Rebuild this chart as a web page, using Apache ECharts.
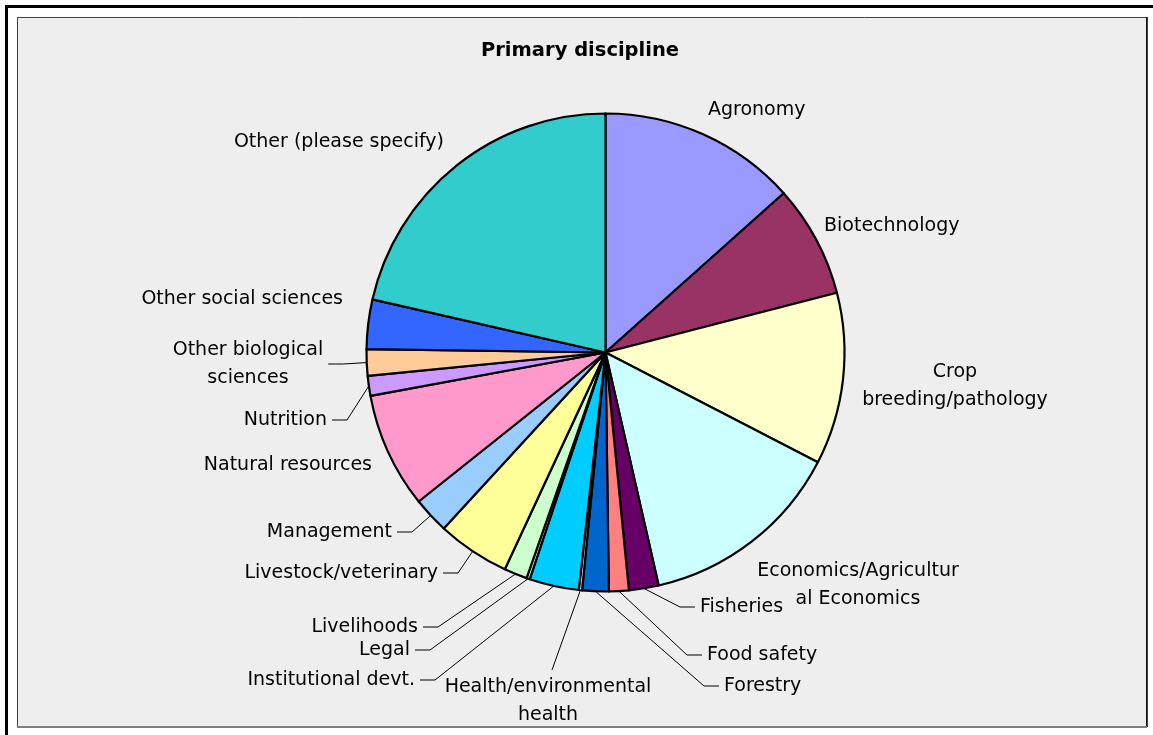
<!DOCTYPE html>
<html>
<head>
<meta charset="utf-8">
<script src="https://cdn.jsdelivr.net/npm/echarts@6/dist/echarts.min.js"></script>
<style>
  html, body { margin: 0; padding: 0; background: #ffffff; }
  #chart { width: 1153px; height: 735px; }
</style>
</head>
<body>
<div id="chart"></div>
<script>
// Respondents by primary discipline
const categories = [
  'Agronomy', 'Biotechnology', 'Crop breeding/pathology',
  'Economics/Agricultural Economics', 'Fisheries', 'Food safety', 'Forestry',
  'Health/environmental health', 'Institutional devt.', 'Legal', 'Livelihoods',
  'Livestock/veterinary', 'Management', 'Natural resources', 'Nutrition',
  'Other biological sciences', 'Other social sciences', 'Other (please specify)'
];
const counts = [60, 34, 52, 62, 9, 6, 8, 1, 15, 1, 7, 22, 11, 35, 6, 8, 15, 96];
const sliceColors = [
  '#9999FF', '#993366', '#FFFFCC', '#CCFFFF', '#660066', '#FF8080', '#0066CC',
  '#CCCCFF', '#00CCFF', '#CCFFFF', '#CCFFCC', '#FFFF99', '#99CCFF', '#FF99CC',
  '#CC99FF', '#FFCC99', '#3366FF', '#33CCCC'
];
// label text, wrapped the way it is printed
const labelText = [
  'Agronomy', 'Biotechnology', 'Crop\nbreeding/pathology',
  'Economics/Agricultur\nal Economics', 'Fisheries', 'Food safety', 'Forestry',
  'Health/environmental\nhealth', 'Institutional devt.', 'Legal', 'Livelihoods',
  'Livestock/veterinary', 'Management', 'Natural resources', 'Nutrition',
  'Other biological\nsciences', 'Other social sciences', 'Other (please specify)'
];

// ---- layout ----
const CX = 605.5, CY = 352.5, R = 239;
const FONT = 'DejaVu Sans';
// label anchor x, y, text align, leader (0 none, 1 elbow to the side, 2 from above)
const labelSpots = [
  [708, 110, 'left', 0],
  [824, 226, 'left', 0],
  [955, 386, 'center', 0],
  [858, 585, 'center', 0],
  [700, 607, 'left', 1],
  [707, 655, 'left', 1],
  [724, 686, 'left', 1],
  [548, 701, 'center', 2],
  [415, 680, 'right', 1],
  [410, 650, 'right', 1],
  [418, 627, 'right', 1],
  [438, 573, 'right', 1],
  [392, 532, 'right', 1],
  [372, 465, 'right', 0],
  [327, 420, 'right', 1],
  [248, 364, 'center', 1],
  [343, 299, 'right', 0],
  [444, 142, 'right', 0]
];

// mid angle of every slice, clockwise from 12 o'clock
const total = counts.reduce((a, b) => a + b, 0);
let acc = 0;
const midAngles = counts.map(v => {
  const m = (acc + v / 2) / total * 2 * Math.PI;
  acc += v;
  return m;
});

function leaderPoints(i, rect) {
  const spot = labelSpots[i];
  const a = midAngles[i];
  const anchor = [CX + R * Math.sin(a), CY - R * Math.cos(a)];
  const x = spot[0], y = spot[1], align = spot[2];
  if (spot[3] === 2) {
    const top = y - rect.height / 2 - 3;
    const end = [x + 4, top];
    return [anchor, end, end];
  }
  let edge = x;
  if (align === 'center') edge = anchor[0] > x ? x + rect.width / 2 : x - rect.width / 2;
  const dir = anchor[0] > edge ? 1 : -1;
  return [anchor, [edge + dir * 20, y], [edge + dir * 5, y]];
}

const chart = echarts.init(document.getElementById('chart'), null, { renderer: 'canvas' });

chart.setOption({
  animation: false,
  graphic: {
    elements: [
      {
        type: 'rect', z: 0, silent: true,
        shape: { x: 6.5, y: 6.5, width: 1200, height: 800 },
        style: { fill: '#ffffff', stroke: '#000000', lineWidth: 3 }
      },
      {
        type: 'rect', z: 0, silent: true,
        shape: { x: 17.5, y: 17.5, width: 1129, height: 709 },
        style: { fill: '#EEEEEE', stroke: '#404040', lineWidth: 1 }
      },
      {
        type: 'line', z: 0, silent: true,
        shape: { x1: 1147, y1: 17, x2: 1147, y2: 727 },
        style: { stroke: '#000000', lineWidth: 1.5 }
      },
      {
        type: 'line', z: 0, silent: true,
        shape: { x1: 17, y1: 727, x2: 1147, y2: 727 },
        style: { stroke: '#808080', lineWidth: 2 }
      }
    ]
  },
  title: {
    text: 'Primary discipline',
    left: 580,
    top: 51,
    textAlign: 'center',
    textVerticalAlign: 'middle',
    padding: 0,
    textStyle: { fontFamily: FONT, fontWeight: 'bold', fontSize: 19.5, color: '#000000' }
  },
  series: [{
    type: 'pie',
    center: [CX, CY],
    radius: R,
    startAngle: 90,
    clockwise: true,
    avoidLabelOverlap: false,
    emphasis: { disabled: true },
    itemStyle: { borderColor: '#000000', borderWidth: 2.2 },
    label: {
      show: true,
      position: 'outside',
      color: '#000000',
      fontFamily: FONT,
      fontSize: 19,
      lineHeight: 28,
      formatter: p => labelText[p.dataIndex]
    },
    labelLine: {
      show: true,
      length: 10,
      length2: 10,
      smooth: false,
      lineStyle: { color: '#000000', width: 1 }
    },
    labelLayout: params => {
      const i = params.dataIndex;
      const spot = labelSpots[i];
      return {
        x: spot[0],
        y: spot[1],
        align: spot[2],
        verticalAlign: 'middle',
        labelLinePoints: leaderPoints(i, params.labelRect)
      };
    },
    data: categories.map((name, i) => ({
      name: name,
      value: counts[i],
      itemStyle: { color: sliceColors[i] },
      labelLine: { show: labelSpots[i][3] !== 0 }
    }))
  }]
});
</script>
</body>
</html>
